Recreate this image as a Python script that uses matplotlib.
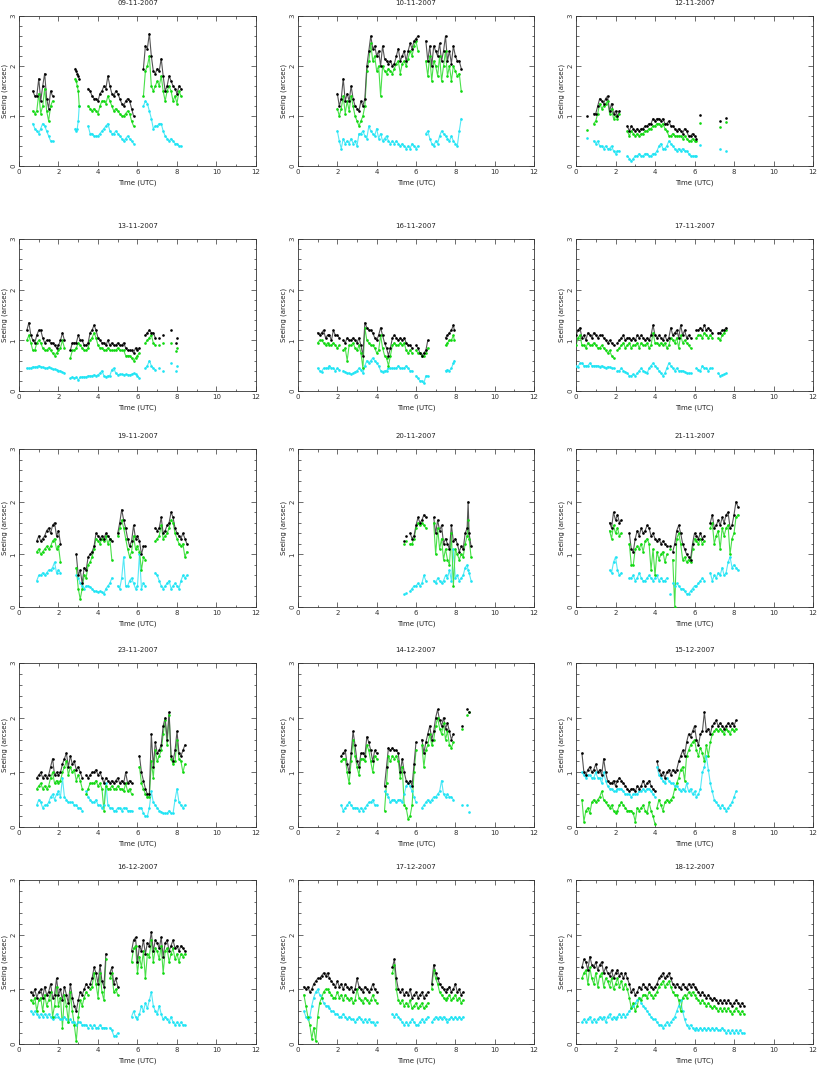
import matplotlib

matplotlib.use("Agg")
import matplotlib.pyplot as plt
from matplotlib.ticker import MultipleLocator
import numpy as np

nan = float("nan")

# seeing (arcsec) vs time (UTC); black = total, green / cyan = the two partial series
# nan entries break the curve where there is no data

# 09-11-2007
t_0911 = [0.7, 0.8, 0.9, 1.0, 1.1, 1.2, 1.3, 1.4, 1.5, 1.6, 1.7, nan,
          2.85, 2.9, 2.95, 3.0, 3.05, nan,
          3.5, 3.6, 3.7, 3.8, 3.9, 4.0, 4.1, 4.2, 4.3, 4.4, 4.5, 4.6, 4.7, 4.8, 4.9, 5.0, 5.1, 5.2, 5.3, 5.4,
          5.5, 5.6, 5.7, 5.8, nan,
          6.3, 6.4, 6.5, 6.6, 6.7, 6.8, 6.9, 7.0, 7.1, 7.2, 7.3, 7.4, 7.5, 7.6, 7.7, 7.8, 7.9, 8.0, 8.1, 8.2]
blk_0911 = [1.5, 1.4, 1.4, 1.75, 1.3, 1.6, 1.85, 1.35, 1.15, 1.5, 1.4, nan,
            1.95, 1.9, 1.85, 1.8, 1.75, nan,
            1.55, 1.5, 1.4, 1.35, 1.35, 1.3, 1.45, 1.5, 1.6, 1.55, 1.8, 1.6, 1.45, 1.4, 1.5, 1.45, 1.35, 1.25,
            1.2, 1.3, 1.35, 1.3, 1.15, 1.0, nan,
            1.95, 2.4, 2.35, 2.65, 2.2, 1.9, 1.85, 1.95, 1.9, 2.15, 1.8, 1.5, 1.6, 1.8, 1.7, 1.6, 1.55, 1.45, 1.6, 1.55]
grn_0911 = [1.1, 1.05, 1.1, 1.45, 1.05, 1.2, 1.55, 1.1, 0.9, 1.2, 1.3, nan,
            1.75, 1.7, 1.6, 1.5, 1.2, nan,
            1.2, 1.15, 1.1, 1.15, 1.1, 1.05, 1.2, 1.3, 1.3, 1.25, 1.4, 1.3, 1.2, 1.1, 1.15, 1.1, 1.05, 1.0,
            1.0, 1.05, 1.1, 1.05, 0.9, 0.8, nan,
            1.4, 1.9, 2.0, 2.2, 1.6, 1.5, 1.6, 1.7, 1.6, 1.8, 1.5, 1.3, 1.5, 1.6, 1.5, 1.3, 1.4, 1.25, 1.5, 1.4]
cyn_0911 = [0.85, 0.75, 0.7, 0.65, 0.75, 0.85, 0.8, 0.7, 0.6, 0.5, 0.5, nan,
            0.75, 0.7, 0.75, 0.9, 1.2, nan,
            0.8, 0.65, 0.65, 0.6, 0.6, 0.6, 0.65, 0.7, 0.75, 0.8, 0.85, 0.7, 0.65, 0.65, 0.7, 0.65, 0.6, 0.55,
            0.5, 0.55, 0.6, 0.55, 0.5, 0.45, nan,
            1.2, 1.3, 1.25, 1.1, 0.95, 0.75, 0.8, 0.8, 0.85, 0.85, 0.7, 0.6, 0.55, 0.5, 0.55, 0.5, 0.45, 0.45, 0.4, 0.4]

# 10-11-2007
t_1011 = [2.0, 2.1, 2.2, 2.3, 2.4, 2.5, 2.6, 2.7, 2.8, 2.9, 3.0, 3.1, 3.2, 3.3, 3.4, 3.5, 3.6, 3.7, 3.8, 3.9,
          4.0, 4.1, 4.2, 4.3, 4.4, 4.5, 4.6, 4.7, 4.8, 4.9, 5.0, 5.1, 5.2, 5.3, 5.4, 5.5, 5.6, 5.7, 5.8, 5.9,
          6.0, 6.1, nan,
          6.5, 6.6, 6.7, 6.8, 6.9, 7.0, 7.1, 7.2, 7.3, 7.4, 7.5, 7.6, 7.7, 7.8, 7.9, 8.0, 8.1, 8.2, 8.3]
blk_1011 = [1.45, 1.2, 1.35, 1.75, 1.3, 1.45, 1.3, 1.6, 1.35, 1.2, 1.15, 1.1, 1.3, 1.2, 1.35, 2.0, 2.3, 2.6, 2.35, 2.4,
            2.2, 2.3, 2.0, 2.4, 2.15, 2.1, 2.05, 2.1, 2.0, 2.05, 2.2, 2.35, 2.1, 2.2, 2.3, 2.1, 2.3, 2.45, 2.35, 2.5,
            2.55, 2.6, nan,
            2.5, 2.1, 2.4, 2.0, 2.4, 2.3, 2.2, 2.45, 2.1, 2.3, 2.6, 2.1, 2.3, 2.05, 2.4, 2.2, 2.1, 2.1, 1.95]
grn_1011 = [1.15, 1.0, 1.15, 1.4, 1.05, 1.3, 1.1, 1.4, 1.2, 1.0, 0.9, 0.8, 0.9, 1.0, 1.2, 1.9, 2.1, 2.45, 2.1, 2.2,
            1.9, 2.0, 1.4, 2.0, 1.9, 1.85, 1.95, 1.9, 1.85, 1.95, 2.05, 2.1, 1.85, 2.05, 2.1, 2.0, 2.15, 2.3, 2.2, 2.4,
            2.5, 2.3, nan,
            2.1, 1.8, 2.2, 1.7, 2.1, 2.0, 1.8, 2.2, 1.7, 2.0, 2.3, 1.8, 2.0, 1.7, 2.0, 1.9, 1.8, 1.85, 1.5]
cyn_1011 = [0.7, 0.5, 0.35, 0.55, 0.45, 0.5, 0.45, 0.55, 0.45, 0.5, 0.4, 0.65, 0.65, 0.7, 0.6, 0.55, 0.8, 0.7, 0.65, 0.6,
            0.75, 0.55, 0.65, 0.5, 0.55, 0.6, 0.5, 0.45, 0.5, 0.45, 0.5, 0.45, 0.4, 0.45, 0.4, 0.35, 0.4, 0.35, 0.45, 0.4,
            0.35, 0.4, nan,
            0.65, 0.7, 0.55, 0.45, 0.4, 0.5, 0.45, 0.6, 0.7, 0.65, 0.6, 0.55, 0.5, 0.6, 0.5, 0.45, 0.4, 0.7, 0.95]

# 12-11-2007
t_1211 = [0.55, nan,
          0.9, 1.0, 1.1, 1.2, 1.3, 1.4, 1.5, 1.6, 1.7, 1.8, 1.9, 2.0, 2.1, 2.2, nan,
          2.6, 2.7, 2.8, 2.9, 3.0, 3.1, 3.2, 3.3, 3.4, 3.5, 3.6, 3.7, 3.8, 3.9, 4.0, 4.1, 4.2, 4.3, 4.4, 4.5,
          4.6, 4.7, 4.8, 4.9, 5.0, 5.1, 5.2, 5.3, 5.4, 5.5, 5.6, 5.7, 5.8, 5.9, 6.0, 6.1, nan,
          6.3, nan, 7.3, nan, 7.6]
blk_1211 = [1.0, nan,
            1.05, 1.05, 1.2, 1.35, 1.3, 1.25, 1.35, 1.4, 1.1, 1.25, 1.05, 1.1, 1.0, 1.1, nan,
            0.8, 0.7, 0.8, 0.75, 0.7, 0.75, 0.7, 0.75, 0.75, 0.8, 0.8, 0.85, 0.85, 0.95, 0.9, 0.95, 0.95, 0.9, 0.95, 0.85,
            0.85, 0.9, 0.8, 0.8, 0.75, 0.7, 0.75, 0.7, 0.65, 0.75, 0.7, 0.6, 0.6, 0.65, 0.6, 0.55, nan,
            1.02, nan, 0.9, nan, 0.97]
grn_1211 = [0.73, nan,
            0.85, 0.9, 1.05, 1.25, 1.15, 1.2, 1.25, 1.3, 1.05, 1.15, 0.95, 1.0, 0.95, 1.05, nan,
            0.7, 0.6, 0.7, 0.65, 0.6, 0.65, 0.6, 0.65, 0.65, 0.7, 0.7, 0.75, 0.75, 0.8, 0.8, 0.85, 0.85, 0.8, 0.85, 0.75,
            0.7, 0.6, 0.6, 0.65, 0.6, 0.6, 0.6, 0.6, 0.55, 0.6, 0.55, 0.5, 0.5, 0.55, 0.5, 0.5, nan,
            0.87, nan, 0.78, nan, 0.88]
cyn_1211 = [0.57, nan,
            0.5, 0.45, 0.5, 0.4, 0.4, 0.35, 0.4, 0.35, 0.35, 0.4, 0.3, 0.25, 0.3, 0.3, nan,
            0.2, 0.15, 0.1, 0.15, 0.2, 0.2, 0.25, 0.2, 0.2, 0.25, 0.25, 0.2, 0.2, 0.25, 0.25, 0.3, 0.4, 0.45, 0.35, 0.35,
            0.4, 0.5, 0.45, 0.4, 0.35, 0.3, 0.35, 0.3, 0.35, 0.3, 0.3, 0.25, 0.2, 0.2, 0.2, 0.2, nan,
            0.43, nan, 0.35, nan, 0.3]

# 13-11-2007
t_1311 = [0.4, 0.5, 0.6, 0.7, 0.8, 0.9, 1.0, 1.1, 1.2, 1.3, 1.4, 1.5, 1.6, 1.7, 1.8, 1.9, 2.0, 2.1, 2.2, 2.3, nan,
          2.6, 2.7, 2.8, 2.9, 3.0, 3.1, 3.2, 3.3, 3.4, 3.5, 3.6, 3.7, 3.8, 3.9, 4.0, 4.1, 4.2, 4.3, 4.4, 4.5,
          4.6, 4.7, 4.8, 4.9, 5.0, 5.1, 5.2, 5.3, 5.4, 5.5, 5.6, 5.7, 5.8, 5.9, 6.0, 6.1, nan,
          6.4, 6.5, 6.6, 6.7, 6.8, 6.9, nan, 7.1, nan, 7.3, nan, 7.7, nan, 7.95, nan, 8.0]
blk_1311 = [1.2, 1.35, 1.1, 1.0, 0.95, 1.1, 1.2, 1.2, 1.05, 0.95, 1.0, 1.0, 0.95, 0.95, 0.9, 0.85, 0.9, 1.0, 1.15, 1.0, nan,
            0.8, 0.95, 0.95, 0.95, 1.1, 1.0, 1.0, 0.9, 0.9, 0.95, 1.15, 1.2, 1.3, 1.2, 1.05, 1.0, 0.95, 0.95, 0.9, 1.0,
            0.9, 0.95, 0.9, 0.9, 0.95, 0.9, 0.9, 0.95, 0.85, 0.8, 0.8, 0.8, 0.75, 0.85, 0.8, 0.85, nan,
            1.1, 1.15, 1.2, 1.15, 1.15, 1.05, nan, 1.05, nan, 1.1, nan, 1.2, nan, 0.95, nan, 1.05]
grn_1311 = [1.0, 1.1, 0.95, 0.8, 0.8, 0.95, 1.0, 0.95, 0.85, 0.8, 0.8, 0.85, 0.8, 0.75, 0.7, 0.75, 0.8, 0.85, 1.0, 0.85, nan,
            0.65, 0.8, 0.8, 0.85, 0.95, 0.9, 0.85, 0.8, 0.8, 0.85, 1.0, 1.05, 1.15, 1.05, 0.9, 0.85, 0.85, 0.8, 0.8, 0.85,
            0.8, 0.8, 0.8, 0.8, 0.85, 0.8, 0.8, 0.8, 0.7, 0.7, 0.7, 0.65, 0.6, 0.65, 0.7, 0.75, nan,
            0.95, 1.0, 1.05, 1.1, 0.95, 0.9, nan, 0.9, nan, 0.95, nan, 0.95, nan, 0.78, nan, 0.85]
cyn_1311 = [0.45, 0.45, 0.45, 0.48, 0.47, 0.48, 0.5, 0.48, 0.47, 0.45, 0.45, 0.47, 0.45, 0.43, 0.43, 0.42, 0.4, 0.4,
            0.37, 0.36, nan,
            0.25, 0.28, 0.25, 0.27, 0.22, 0.27, 0.28, 0.28, 0.28, 0.3, 0.3, 0.3, 0.32, 0.3, 0.32, 0.35, 0.4, 0.3, 0.28, 0.3,
            0.3, 0.42, 0.45, 0.35, 0.32, 0.33, 0.33, 0.32, 0.33, 0.32, 0.32, 0.33, 0.35, 0.33, 0.3, 0.25, nan,
            0.45, 0.5, 0.6, 0.5, 0.45, 0.42, nan, 0.45, nan, 0.4, nan, 0.55, nan, 0.4, nan, 0.5]

# 16-11-2007
t_1611 = [1.0, 1.1, 1.2, 1.3, 1.4, 1.5, 1.6, 1.7, 1.8, 1.9, 2.0, 2.1, nan,
          2.3, 2.4, 2.5, 2.6, 2.7, 2.8, 2.9, 3.0, 3.1, 3.2, 3.3, 3.4, 3.5, 3.6, 3.7, 3.8, 3.9, 4.0, 4.1, 4.2,
          4.3, 4.4, 4.5, 4.6, 4.7, 4.8, 4.9, 5.0, 5.1, 5.2, 5.3, 5.4, 5.5, 5.6, 5.7, 5.8, nan,
          6.0, 6.1, 6.2, 6.3, 6.4, 6.5, 6.6, nan,
          7.5, 7.6, 7.7, 7.8, 7.9, 7.95]
blk_1611 = [1.15, 1.1, 1.15, 1.2, 1.05, 1.1, 1.1, 1.0, 1.2, 1.1, 1.1, 1.05, nan,
            1.0, 0.95, 1.05, 1.0, 1.0, 1.05, 1.0, 0.95, 1.05, 0.9, 0.7, 1.35, 1.25, 1.2, 1.2, 1.15, 1.05, 1.0, 1.1, 1.25,
            1.1, 0.95, 0.85, 0.7, 0.85, 1.05, 1.1, 1.05, 1.0, 1.05, 1.0, 1.05, 0.95, 0.9, 0.9, 0.85, nan,
            0.9, 0.85, 0.75, 0.7, 0.75, 0.8, 1.0, nan,
            1.05, 1.1, 1.15, 1.2, 1.3, 1.2]
grn_1611 = [0.95, 1.0, 1.0, 0.95, 0.9, 0.95, 0.9, 0.9, 0.95, 0.9, 0.85, 0.9, nan,
            0.8, 0.85, 0.6, 0.9, 0.9, 0.95, 0.85, 0.8, 0.9, 0.75, 0.45, 1.25, 1.0, 0.95, 0.9, 0.9, 0.85, 0.75, 0.8, 1.1,
            0.85, 0.7, 0.65, 0.5, 0.7, 0.9, 0.95, 0.9, 0.9, 0.95, 0.9, 0.95, 0.8, 0.75, 0.8, 0.75, nan,
            0.8, 0.75, 0.75, 0.7, 0.7, 0.75, 0.85, nan,
            0.9, 0.95, 1.0, 1.0, 1.1, 1.0]
cyn_1611 = [0.45, 0.4, 0.38, 0.45, 0.45, 0.45, 0.5, 0.45, 0.45, 0.4, 0.45, 0.42, nan,
            0.4, 0.38, 0.35, 0.35, 0.33, 0.35, 0.38, 0.4, 0.45, 0.42, 0.35, 0.5, 0.6, 0.55, 0.6, 0.65, 0.6, 0.55, 0.5, 0.4,
            0.38, 0.4, 0.4, 0.45, 0.45, 0.45, 0.45, 0.45, 0.5, 0.45, 0.45, 0.45, 0.5, 0.45, 0.4, 0.4, nan,
            0.3, 0.25, 0.2, 0.2, 0.15, 0.3, 0.3, nan,
            0.4, 0.42, 0.4, 0.45, 0.55, 0.6]

# 17-11-2007
t_1711 = [0.0, 0.1, 0.2, 0.3, 0.4, 0.5, 0.6, 0.7, 0.8, 0.9, 1.0, 1.1, 1.2, 1.3, 1.4, 1.5, 1.6, 1.7, 1.8, 1.9, nan,
          2.1, 2.2, 2.3, 2.4, 2.5, 2.6, 2.7, 2.8, 2.9, 3.0, 3.1, 3.2, 3.3, 3.4, 3.5, 3.6, 3.7, 3.8, 3.9, 4.0,
          4.1, 4.2, 4.3, 4.4, 4.5, 4.6, 4.7, 4.8, 4.9, 5.0, 5.1, 5.2, 5.3, 5.4, 5.5, 5.6, 5.7, 5.8, nan,
          6.1, 6.2, 6.3, 6.4, 6.5, 6.6, 6.7, 6.8, 6.9, nan,
          7.2, 7.3, 7.4, 7.5, 7.6]
blk_1711 = [1.1, 1.2, 1.25, 1.05, 1.1, 1.0, 1.15, 1.1, 1.05, 1.15, 1.1, 1.05, 1.1, 1.1, 1.05, 1.0, 0.95, 1.0, 0.95, 0.9, nan,
            0.95, 1.0, 1.05, 1.1, 1.0, 1.05, 1.05, 1.0, 1.05, 1.0, 1.1, 1.05, 1.1, 1.05, 1.0, 1.05, 1.0, 1.1, 1.3, 1.1,
            1.05, 1.1, 1.05, 1.0, 1.1, 1.0, 1.05, 1.25, 1.1, 1.15, 1.2, 1.05, 1.3, 1.1, 1.2, 1.05, 1.1, 1.05, nan,
            1.2, 1.2, 1.25, 1.2, 1.3, 1.2, 1.25, 1.2, 1.15, nan,
            1.15, 1.15, 1.2, 1.2, 1.25]
grn_1711 = [0.9, 1.05, 1.1, 0.9, 0.9, 0.85, 0.95, 0.9, 0.9, 0.95, 0.9, 0.85, 0.85, 0.9, 0.85, 0.8, 0.75, 0.8, 0.7, 0.65, nan,
            0.8, 0.85, 0.9, 0.95, 0.85, 0.9, 0.95, 0.85, 0.9, 0.9, 0.95, 0.85, 0.95, 0.9, 0.9, 0.95, 0.85, 0.9, 1.15, 0.95,
            0.95, 0.9, 0.95, 0.9, 0.95, 0.85, 0.9, 1.05, 1.0, 0.95, 1.05, 0.85, 1.1, 0.95, 1.0, 0.95, 0.9, 0.85, nan,
            1.05, 1.1, 1.1, 1.05, 1.15, 1.1, 1.05, 1.1, 1.05, nan,
            1.05, 1.0, 1.1, 1.15, 1.2]
cyn_1711 = [0.5, 0.48, 0.55, 0.55, 0.5, 0.5, 0.5, 0.55, 0.5, 0.5, 0.5, 0.5, 0.48, 0.5, 0.47, 0.45, 0.48, 0.47, 0.45, 0.45, nan,
            0.4, 0.4, 0.45, 0.4, 0.38, 0.35, 0.3, 0.3, 0.33, 0.3, 0.35, 0.4, 0.45, 0.4, 0.38, 0.35, 0.45, 0.5, 0.55, 0.5,
            0.45, 0.4, 0.35, 0.3, 0.35, 0.45, 0.55, 0.5, 0.45, 0.4, 0.45, 0.4, 0.4, 0.4, 0.38, 0.35, 0.35, 0.35, nan,
            0.45, 0.42, 0.4, 0.5, 0.45, 0.45, 0.4, 0.45, 0.45, nan,
            0.35, 0.3, 0.32, 0.33, 0.35]

# 19-11-2007
t_1911 = [0.9, 1.0, 1.1, 1.2, 1.3, 1.4, 1.5, 1.6, 1.7, 1.8, 1.9, 2.0, 2.1, nan,
          2.9, 3.0, 3.1, 3.2, 3.3, 3.4, 3.5, 3.6, 3.7, 3.8, 3.9, 4.0, 4.1, 4.2, 4.3, 4.4, 4.5, 4.6, 4.7, nan,
          5.0, 5.1, 5.2, 5.3, 5.4, 5.5, 5.6, 5.7, 5.8, 5.9, 6.0, 6.1, 6.2, 6.3, 6.4, nan,
          6.9, 7.0, 7.1, 7.2, 7.3, 7.4, 7.5, 7.6, 7.7, 7.8, 7.9, 8.0, 8.1, 8.2, 8.3, 8.4, 8.5]
blk_1911 = [1.25, 1.35, 1.25, 1.3, 1.35, 1.45, 1.5, 1.4, 1.55, 1.6, 1.35, 1.45, 1.2, nan,
            1.0, 0.6, 0.7, 0.45, 0.75, 0.7, 0.95, 1.0, 1.05, 1.15, 1.4, 1.35, 1.3, 1.35, 1.3, 1.4, 1.35, 1.3, 1.25, nan,
            1.4, 1.6, 1.85, 1.65, 1.5, 1.3, 1.15, 1.25, 1.55, 1.3, 1.35, 1.25, 1.0, 1.15, 1.15, nan,
            1.5, 1.45, 1.5, 1.7, 1.4, 1.45, 1.55, 1.6, 1.8, 1.7, 1.5, 1.4, 1.35, 1.3, 1.4, 1.3, 1.2]
grn_1911 = [1.05, 1.1, 1.0, 1.05, 1.1, 1.15, 1.1, 1.15, 1.25, 1.3, 1.1, 1.15, 0.85, nan,
            0.75, 0.35, 0.15, 0.35, 0.6, 0.55, 0.8, 0.85, 0.95, 1.1, 1.3, 1.25, 1.2, 1.3, 1.25, 1.35, 1.2, 1.3, 0.9, nan,
            1.35, 1.5, 1.65, 1.5, 1.3, 1.1, 0.95, 1.05, 1.35, 1.1, 1.15, 1.05, 0.7, 0.95, 0.9, nan,
            1.25, 1.3, 1.35, 1.55, 1.3, 1.35, 1.4, 1.5, 1.65, 1.6, 1.4, 1.3, 1.2, 1.15, 1.2, 0.95, 1.05]
cyn_1911 = [0.5, 0.6, 0.6, 0.65, 0.6, 0.65, 0.7, 0.7, 0.75, 0.85, 0.65, 0.7, 0.65, nan,
            0.6, 0.55, 0.45, 0.4, 0.35, 0.4, 0.4, 0.38, 0.35, 0.3, 0.3, 0.28, 0.3, 0.28, 0.25, 0.35, 0.4, 0.45, 0.55, nan,
            0.4, 0.35, 0.55, 0.95, 0.4, 0.4, 0.5, 0.55, 0.45, 0.35, 0.4, 1.0, 0.35, 0.45, 0.4, nan,
            0.65, 0.6, 0.5, 0.4, 0.35, 0.4, 0.45, 0.5, 0.35, 0.4, 0.45, 0.4, 0.35, 0.5, 0.6, 0.55, 0.6]

# 20-11-2007
t_2011 = [5.4, nan, 5.5, nan,
          5.7, 5.8, 5.9, 6.0, 6.1, 6.2, 6.3, 6.4, 6.5, nan,
          6.9, 7.0, 7.1, 7.2, 7.3, 7.4, 7.5, 7.6, 7.7, 7.8, 7.9, 8.0, 8.1, 8.2, 8.3, 8.4, 8.5, 8.6, 8.65, 8.7, 8.8]
blk_2011 = [1.25, nan, 1.35, nan,
            1.4, 1.3, 1.35, 1.55, 1.7, 1.6, 1.65, 1.75, 1.7, nan,
            1.7, 1.4, 1.65, 1.45, 1.55, 1.2, 1.3, 1.2, 1.1, 1.55, 1.25, 1.3, 1.2, 1.05, 1.15, 1.1, 1.4, 1.5, 2.0, 1.4, 1.15]
grn_2011 = [1.2, nan, 1.25, nan,
            1.2, 1.2, 1.3, 1.5, 1.6, 1.55, 1.6, 1.55, 1.5, nan,
            1.6, 1.0, 1.5, 1.1, 1.3, 0.9, 1.1, 0.9, 0.8, 1.4, 0.4, 1.1, 1.0, 0.9, 1.0, 0.95, 1.2, 1.35, 1.65, 1.3, 0.95]
cyn_2011 = [0.25, nan, 0.27, nan,
            0.3, 0.35, 0.4, 0.4, 0.45, 0.4, 0.45, 0.6, 0.5, nan,
            0.5, 0.45, 0.55, 0.5, 0.45, 0.5, 0.6, 0.55, 0.7, 0.5, 1.1, 0.55, 0.6, 0.5, 0.55, 0.6, 0.75, 0.8, 0.7, 0.65, 0.5]

# 21-11-2007
t_2111 = [1.7, 1.8, 1.9, 2.0, 2.1, 2.2, 2.3, nan,
          2.7, 2.8, 2.9, 3.0, 3.1, 3.2, 3.3, 3.4, 3.5, 3.6, 3.7, 3.8, 3.9, 4.0, 4.1, 4.2, 4.3, 4.4, 4.5, 4.6, nan,
          4.75, nan,
          4.9, 5.0, 5.1, 5.2, 5.3, 5.4, 5.5, 5.6, 5.7, 5.8, 5.9, 6.0, 6.1, 6.2, 6.3, 6.4, 6.5, nan,
          6.8, 6.9, 7.0, 7.1, 7.2, 7.3, 7.4, 7.5, 7.6, 7.7, 7.8, 7.9, 8.0, 8.1, 8.2]
blk_2111 = [1.6, 1.5, 1.8, 1.65, 1.75, 1.6, 1.65, nan,
            1.4, 1.1, 1.05, 1.3, 1.45, 1.35, 1.5, 1.4, 1.45, 1.55, 1.5, 1.35, 1.4, 1.3, 1.25, 1.3, 1.2, 1.25, 1.2, 1.15, nan,
            1.15, nan,
            1.05, 1.2, 1.45, 1.55, 1.4, 1.2, 1.1, 1.0, 0.95, 0.9, 1.2, 1.4, 1.35, 1.3, 1.4, 1.3, 1.35, nan,
            1.6, 1.75, 1.5, 1.55, 1.65, 1.55, 1.7, 1.6, 1.75, 1.8, 1.5, 1.55, 1.75, 2.0, 1.9]
grn_2111 = [1.45, 1.3, 1.55, 1.4, 1.5, 1.35, 1.4, nan,
            1.2, 0.8, 0.8, 1.1, 1.15, 1.1, 1.2, 1.05, 1.25, 1.3, 1.2, 0.7, 1.1, 0.6, 1.05, 0.9, 1.0, 1.05, 0.85, 1.0, nan,
            1.1, nan,
            0.9, 0.0, 1.3, 1.4, 1.2, 0.9, 0.95, 0.85, 0.9, 0.85, 1.1, 1.3, 1.25, 1.2, 1.3, 1.2, 1.25, nan,
            1.5, 1.6, 1.2, 1.35, 1.45, 1.1, 1.5, 1.35, 1.5, 1.55, 1.0, 1.3, 1.4, 1.7, 1.75]
cyn_2111 = [0.7, 0.65, 0.85, 0.95, 0.7, 0.6, 0.65, nan,
            0.55, 0.55, 0.6, 0.5, 0.55, 0.65, 0.55, 0.5, 0.5, 0.55, 0.6, 0.55, 0.5, 0.55, 0.6, 0.5, 0.55, 0.5, 0.5, 0.55, nan,
            0.25, nan,
            0.45, 0.4, 0.45, 0.4, 0.35, 0.35, 0.3, 0.25, 0.25, 0.3, 0.35, 0.4, 0.4, 0.45, 0.5, 0.55, 0.5, nan,
            0.65, 0.5, 0.6, 0.55, 0.65, 0.6, 0.75, 0.6, 0.65, 0.85, 0.95, 0.75, 0.8, 0.75, 0.7]

# 23-11-2007
t_2311 = [0.9, 1.0, 1.1, 1.2, 1.3, 1.4, 1.5, 1.6, 1.7, 1.8, 1.9, 2.0, 2.1, 2.2, 2.3, 2.4, 2.5, 2.6, 2.7, 2.8,
          2.9, 3.0, 3.1, 3.2, nan,
          3.4, 3.5, 3.6, 3.7, 3.8, 3.9, 4.0, 4.1, 4.2, 4.3, 4.4, 4.5, 4.6, 4.7, 4.8, 4.9, 5.0, 5.1, 5.2, 5.3,
          5.4, 5.5, 5.6, 5.7, nan,
          6.1, 6.2, 6.3, 6.4, 6.5, 6.6, 6.7, 6.8, 6.9, 7.0, 7.1, 7.2, 7.3, 7.4, 7.5, 7.6, 7.7, 7.8, 7.9, 8.0,
          8.1, 8.2, 8.3, 8.4]
blk_2311 = [0.9, 0.95, 1.0, 0.9, 0.95, 0.9, 0.95, 1.1, 1.25, 0.95, 1.0, 0.95, 1.0, 1.15, 1.25, 1.35, 1.1, 1.3, 1.15, 1.2,
            1.05, 1.1, 1.0, 0.9, nan,
            0.95, 0.9, 0.95, 1.0, 1.0, 1.05, 0.95, 1.0, 0.9, 0.8, 0.9, 0.85, 0.8, 0.85, 0.8, 0.85, 0.9, 0.8, 0.85, 0.8,
            1.0, 0.8, 0.85, 0.8, nan,
            1.3, 1.0, 0.85, 0.7, 0.6, 0.6, 1.7, 1.1, 1.55, 1.35, 1.4, 1.5, 1.85, 2.0, 1.6, 2.1, 1.3, 1.2, 1.4, 1.75,
            1.35, 1.3, 1.4, 1.5]
grn_2311 = [0.7, 0.75, 0.8, 0.7, 0.75, 0.7, 0.75, 0.9, 1.0, 0.8, 0.85, 0.8, 0.85, 1.0, 1.1, 1.2, 0.95, 1.1, 1.0, 1.05,
            0.85, 0.95, 0.85, 0.7, nan,
            0.6, 0.7, 0.8, 0.8, 0.8, 0.85, 0.75, 0.8, 0.7, 0.3, 0.75, 0.7, 0.7, 0.75, 0.7, 0.7, 0.75, 0.7, 0.7, 0.65,
            0.8, 0.65, 0.7, 0.6, nan,
            1.1, 0.8, 0.7, 0.6, 0.55, 0.55, 1.2, 0.9, 1.4, 1.2, 1.3, 1.4, 1.7, 1.95, 1.5, 2.05, 1.25, 1.15, 1.2, 1.6,
            1.25, 1.2, 1.0, 1.15]
cyn_2311 = [0.4, 0.5, 0.45, 0.35, 0.4, 0.4, 0.45, 0.55, 0.6, 0.5, 0.6, 0.65, 0.55, 0.9, 0.55, 0.5, 0.45, 0.45, 0.45, 0.4,
            0.4, 0.35, 0.35, 0.3, nan,
            0.65, 0.55, 0.5, 0.45, 0.45, 0.5, 0.4, 0.4, 0.35, 0.4, 0.8, 0.4, 0.35, 0.35, 0.3, 0.3, 0.35, 0.35, 0.3, 0.35,
            0.35, 0.3, 0.3, 0.3, nan,
            0.35, 0.35, 0.25, 0.2, 0.2, 0.35, 0.65, 0.45, 0.4, 0.35, 0.3, 0.28, 0.25, 0.25, 0.25, 0.3, 0.25, 0.25, 0.5, 0.7,
            0.45, 0.4, 0.35, 0.4]

# 14-12-2007
t_1412 = [2.2, 2.3, 2.4, 2.5, 2.6, 2.7, 2.8, 2.9, 3.0, 3.1, 3.2, 3.3, 3.4, 3.5, 3.6, 3.7, 3.8, 3.9, 4.0, nan,
          4.4, 4.5, 4.6, 4.7, 4.8, 4.9, 5.0, 5.1, 5.2, 5.3, 5.4, 5.5, 5.6, 5.7, 5.8, 5.9, 6.0, nan,
          6.3, 6.4, 6.5, 6.6, 6.7, 6.8, 6.9, 7.0, 7.1, 7.2, 7.3, 7.4, 7.5, 7.6, 7.7, 7.8, 7.9, nan,
          8.35, nan, 8.6, nan, 8.7]
blk_1412 = [1.3, 1.35, 1.4, 1.15, 1.0, 1.35, 1.75, 1.5, 1.2, 1.1, 1.35, 1.35, 1.3, 1.65, 1.55, 1.4, 1.2, 1.4, 1.35, nan,
            0.75, 1.1, 1.45, 1.4, 1.45, 1.4, 1.4, 1.35, 1.0, 1.25, 1.0, 0.85, 0.8, 0.85, 0.75, 1.15, 1.55, nan,
            1.6, 1.35, 1.55, 1.7, 1.85, 1.6, 1.75, 2.0, 2.15, 1.95, 1.85, 2.0, 1.8, 1.9, 1.75, 1.6, 1.7, nan,
            1.85, nan, 2.15, nan, 2.1]
grn_1412 = [1.2, 1.25, 1.25, 1.0, 0.8, 1.2, 1.6, 1.3, 1.1, 0.95, 1.25, 1.25, 1.2, 1.5, 1.4, 1.2, 1.0, 1.3, 1.25, nan,
            0.3, 0.8, 1.3, 1.2, 1.3, 1.25, 1.3, 1.2, 0.9, 1.1, 0.4, 0.35, 0.15, 0.2, 0.4, 1.0, 1.4, nan,
            1.5, 1.1, 1.4, 1.5, 1.7, 1.5, 1.6, 1.85, 2.0, 1.8, 1.7, 1.9, 1.6, 1.75, 1.5, 1.45, 1.55, nan,
            1.8, nan, 2.05, nan, 2.1]
cyn_1412 = [0.4, 0.3, 0.35, 0.4, 0.45, 0.4, 0.35, 0.35, 0.35, 0.3, 0.35, 0.3, 0.35, 0.4, 0.45, 0.45, 0.5, 0.4, 0.4, nan,
            0.65, 0.6, 0.55, 0.45, 0.5, 0.5, 0.45, 0.5, 0.5, 0.45, 0.6, 0.75, 0.8, 0.75, 0.65, 0.55, 0.45, nan,
            0.35, 0.4, 0.45, 0.5, 0.45, 0.5, 0.55, 0.55, 0.6, 0.65, 0.85, 0.6, 0.55, 0.6, 0.55, 0.55, 0.5, nan,
            0.4, nan, 0.4, nan, 0.28]

# 15-12-2007
t_1512 = [0.3, 0.4, 0.5, 0.6, 0.7, 0.8, 0.9, 1.0, 1.1, 1.2, 1.3, 1.4, 1.5, 1.6, 1.7, 1.8, 1.9, 2.0, 2.1, 2.2,
          2.3, 2.4, 2.5, 2.6, 2.7, 2.8, 2.9, 3.0, 3.1, 3.2, 3.3, 3.4, 3.5, 3.6, 3.7, 3.8, 3.9, 4.0, nan,
          4.1, 4.2, 4.3, 4.4, 4.5, 4.6, 4.7, 4.8, 4.9, 5.0, 5.1, 5.2, 5.3, 5.4, 5.5, 5.6, 5.7, 5.8, 5.9, 6.0,
          6.1, 6.2, 6.3, 6.4, 6.5, 6.6, 6.7, 6.8, 6.9, 7.0, 7.1, 7.2, 7.3, 7.4, 7.5, 7.6, 7.7, 7.8, 7.9, 8.0, 8.1]
blk_1512 = [1.35, 1.0, 0.95, 1.05, 1.1, 1.0, 1.05, 1.15, 1.0, 1.05, 0.95, 1.25, 1.0, 0.85, 0.8, 0.8, 0.85, 0.75, 0.85, 0.9,
            0.85, 0.8, 0.75, 0.7, 0.65, 0.7, 0.7, 0.65, 0.75, 0.7, 0.75, 0.85, 0.75, 0.8, 0.85, 0.75, 0.7, 0.65, nan,
            1.2, 1.05, 0.95, 1.0, 0.9, 1.0, 1.05, 0.95, 1.05, 1.0, 1.05, 1.2, 1.3, 1.4, 1.3, 1.55, 1.7, 1.65, 1.75, 1.85,
            1.6, 1.5, 1.7, 1.75, 2.1, 1.75, 1.8, 1.7, 1.85, 1.9, 1.95, 1.85, 1.9, 1.85, 1.8, 1.85, 1.9, 1.85, 1.9, 1.85,
            1.95]
grn_1512 = [0.5, 0.1, 0.3, 0.35, 0.25, 0.45, 0.5, 0.45, 0.5, 0.55, 0.65, 0.5, 0.45, 0.4, 0.35, 0.4, 0.3, 0.25, 0.3, 0.4,
            0.45, 0.4, 0.35, 0.3, 0.3, 0.3, 0.25, 0.1, 0.35, 0.3, 0.35, 0.4, 0.3, 0.25, 0.45, 0.3, 0.2, 0.05, nan,
            0.35, 0.5, 0.4, 0.3, 0.45, 0.5, 0.45, 0.5, 0.55, 0.7, 0.8, 0.9, 1.05, 1.1, 0.85, 1.3, 1.4, 1.5, 1.55, 1.6,
            1.4, 1.3, 1.45, 1.35, 1.2, 1.5, 1.3, 1.55, 1.7, 1.75, 1.8, 1.75, 1.8, 1.75, 1.7, 1.8, 1.75, 1.7, 1.8, 1.75,
            1.8]
cyn_1512 = [1.0, 0.95, 0.9, 0.95, 0.95, 0.9, 0.9, 1.0, 0.9, 0.9, 0.8, 1.0, 0.85, 0.75, 0.7, 0.7, 0.65, 0.65, 0.7, 0.7,
            0.7, 0.65, 0.6, 0.6, 0.6, 0.55, 0.6, 0.6, 0.6, 0.65, 0.65, 0.7, 0.65, 0.7, 0.7, 0.65, 0.6, 0.55, nan,
            1.1, 0.95, 0.9, 0.85, 0.8, 0.9, 0.85, 0.8, 0.8, 0.75, 0.75, 0.7, 0.65, 0.7, 0.65, 0.8, 0.65, 0.7, 0.6, 0.65,
            0.55, 0.6, 0.7, 1.0, 1.1, 1.3, 1.05, 0.8, 0.65, 0.5, 0.45, 0.4, 0.35, 0.4, 0.35, 0.3, 0.35, 0.4, 0.45, 0.55,
            0.65]

# 16-12-2007
t_1612 = [0.6, 0.7, 0.8, 0.9, 1.0, 1.1, 1.2, 1.3, 1.4, 1.5, 1.6, 1.7, 1.8, 1.9, 2.0, 2.1, 2.2, 2.3, 2.4, 2.5,
          2.6, 2.7, 2.8, 2.9, 3.0, 3.1, 3.2, 3.3, 3.4, 3.5, nan,
          3.6, 3.7, 3.8, 3.9, 4.0, 4.1, 4.2, 4.3, 4.4, nan,
          4.6, 4.7, 4.8, 4.9, 5.0, nan,
          5.7, 5.8, 5.9, 6.0, 6.1, 6.2, 6.3, 6.4, 6.5, 6.6, 6.7, 6.8, 6.9, 7.0, 7.1, 7.2, 7.3, 7.4, 7.5, 7.6,
          7.7, 7.8, 7.9, 8.0, 8.1, 8.2, 8.3, 8.4]
blk_1612 = [0.95, 0.9, 1.0, 0.85, 0.95, 1.0, 0.85, 1.05, 0.9, 0.95, 1.1, 0.85, 0.9, 1.2, 0.9, 1.0, 0.8, 1.05, 0.9, 0.75,
            1.1, 0.85, 0.7, 0.6, 0.8, 0.95, 0.9, 1.0, 1.1, 1.05, nan,
            1.1, 1.2, 1.4, 1.3, 1.1, 1.45, 1.15, 1.05, 1.65, nan,
            1.3, 1.4, 1.1, 1.2, 1.05, nan,
            1.7, 1.9, 1.95, 1.5, 1.8, 1.7, 1.9, 1.65, 1.85, 1.8, 2.05, 1.7, 1.9, 1.85, 1.75, 1.95, 1.6, 1.85, 1.9, 1.7,
            1.8, 1.9, 1.75, 1.8, 1.7, 1.8, 1.75, 1.7]
grn_1612 = [0.8, 0.75, 0.85, 0.6, 0.8, 0.85, 0.6, 0.9, 0.7, 0.8, 0.95, 0.5, 0.7, 1.05, 0.7, 0.85, 0.3, 0.9, 0.7, 0.4,
            0.95, 0.6, 0.35, 0.05, 0.5, 0.8, 0.7, 0.85, 0.95, 0.9, nan,
            1.0, 1.05, 1.3, 1.1, 0.85, 1.3, 0.95, 0.8, 1.55, nan,
            1.2, 1.3, 0.95, 1.0, 0.9, nan,
            1.5, 1.75, 1.8, 1.3, 1.6, 1.4, 1.7, 1.2, 1.65, 1.6, 1.9, 1.5, 1.75, 1.7, 1.55, 1.8, 1.3, 1.7, 1.75, 1.5,
            1.65, 1.75, 1.55, 1.65, 1.5, 1.65, 1.6, 1.65]
cyn_1612 = [0.6, 0.55, 0.6, 0.55, 0.5, 0.55, 0.5, 0.55, 0.5, 0.55, 0.5, 0.45, 0.5, 0.55, 0.5, 0.45, 0.45, 0.5, 0.45, 0.4,
            0.45, 0.4, 0.4, 0.35, 0.4, 0.4, 0.35, 0.35, 0.35, 0.3, nan,
            0.35, 0.3, 0.35, 0.3, 0.3, 0.35, 0.3, 0.3, 0.3, nan,
            0.3, 0.25, 0.15, 0.15, 0.2, nan,
            0.5, 0.6, 0.5, 0.45, 0.55, 0.7, 0.6, 0.75, 0.65, 0.8, 0.95, 0.7, 0.6, 0.55, 0.7, 0.55, 0.45, 0.5, 0.45, 0.4,
            0.5, 0.4, 0.35, 0.4, 0.35, 0.4, 0.35, 0.35]

# 17-12-2007
t_1712 = [0.3, 0.4, 0.5, 0.6, 0.7, 0.8, 0.9, 1.0, 1.1, 1.2, 1.3, 1.4, 1.5, 1.6, 1.7, 1.8, 1.9, 2.0, 2.1, 2.2,
          2.3, 2.4, 2.5, 2.6, 2.7, 2.8, 2.9, 3.0, 3.1, 3.2, 3.3, 3.4, 3.5, 3.6, 3.7, 3.8, 3.9, 4.0, nan,
          4.8, 4.9, 5.0, 5.1, 5.2, 5.3, 5.4, 5.5, 5.6, 5.7, 5.8, 5.9, 6.0, 6.1, 6.2, 6.3, 6.4, 6.5, 6.6, nan,
          6.8, 6.9, 7.0, 7.1, 7.2, 7.3, 7.4, 7.5, 7.6, 7.7, 7.8, 7.9, 8.0, 8.1, 8.2, 8.3, 8.4]
blk_1712 = [1.05, 1.0, 1.05, 0.95, 1.0, 1.1, 1.15, 1.2, 1.2, 1.25, 1.3, 1.25, 1.3, 1.2, 1.15, 1.1, 1.05, 1.15, 1.05, 1.1,
            1.0, 1.1, 1.05, 1.0, 1.05, 0.95, 1.0, 1.2, 1.05, 1.0, 0.95, 1.05, 1.0, 0.95, 1.0, 1.1, 1.0, 0.95, nan,
            1.4, 1.55, 1.2, 1.0, 0.95, 1.0, 0.9, 0.95, 0.9, 1.0, 0.85, 0.9, 0.95, 0.85, 0.9, 0.95, 0.85, 0.9, 0.95, nan,
            1.1, 1.45, 1.3, 1.2, 1.1, 1.05, 1.0, 0.95, 1.0, 1.05, 0.95, 1.0, 1.1, 0.95, 1.0, 0.9, 0.95]
grn_1712 = [0.9, 0.7, 0.5, 0.35, 0.1, 0.3, 0.05, 0.5, 0.75, 0.85, 0.95, 1.0, 1.0, 0.95, 0.9, 0.85, 0.85, 0.95, 0.85, 0.9,
            0.8, 0.9, 0.85, 0.8, 0.85, 0.75, 0.8, 1.0, 0.85, 0.8, 0.75, 0.85, 0.8, 0.75, 0.8, 0.9, 0.8, 0.75, nan,
            1.3, 1.45, 1.0, 0.8, 0.75, 0.8, 0.7, 0.75, 0.7, 0.8, 0.65, 0.7, 0.75, 0.65, 0.7, 0.75, 0.65, 0.7, 0.75, nan,
            1.0, 1.35, 1.2, 1.1, 0.95, 0.9, 0.85, 0.8, 0.85, 0.9, 0.8, 0.85, 0.9, 0.8, 0.85, 0.75, 0.8]
cyn_1712 = [0.6, 0.5, 0.45, 0.5, 0.7, 0.85, 0.95, 1.0, 0.9, 0.85, 0.75, 0.7, 0.7, 0.65, 0.6, 0.6, 0.55, 0.55, 0.5, 0.5,
            0.55, 0.5, 0.45, 0.5, 0.45, 0.45, 0.4, 0.45, 0.5, 0.45, 0.4, 0.45, 0.4, 0.45, 0.4, 0.4, 0.35, 0.4, nan,
            0.55, 0.5, 0.55, 0.5, 0.45, 0.4, 0.35, 0.4, 0.35, 0.4, 0.45, 0.4, 0.35, 0.35, 0.4, 0.45, 0.4, 0.45, 0.5, nan,
            0.4, 0.45, 0.5, 0.45, 0.5, 0.45, 0.5, 0.45, 0.4, 0.45, 0.5, 0.45, 0.5, 0.45, 0.5, 0.45, 0.5]

# 18-12-2007
t_1812 = [0.3, 0.4, 0.5, 0.6, 0.7, 0.8, 0.9, 1.0, 1.1, 1.2, 1.3, 1.4, 1.5, 1.6, 1.7, 1.8, 1.9, 2.0, 2.1, 2.2,
          2.3, 2.4, 2.5, 2.6, 2.7, 2.8, 2.9, 3.0, 3.1, 3.2, 3.3, 3.4, 3.5, 3.6, 3.7, 3.8, 3.9, 4.0, 4.1, 4.2,
          4.3, 4.4, 4.5, 4.6, 4.7, 4.8, 4.9, 5.0, 5.1, 5.2, 5.3, 5.4, 5.5, 5.6, 5.7, 5.8, 5.9, 6.0, 6.1, 6.2,
          6.3, 6.4, 6.5, 6.6, 6.7, 6.8, 6.9, 7.0, 7.1, 7.2, 7.3, 7.4, 7.5, 7.6, 7.7, 7.8, 7.9, 8.0, 8.1, 8.2,
          8.3, 8.4, 8.5]
blk_1812 = [1.4, 1.55, 1.5, 1.35, 1.6, 1.45, 1.4, 1.5, 1.35, 1.45, 1.5, 1.3, 1.4, 1.3, 1.25, 1.35, 1.2, 1.3, 1.35, 1.25,
            1.3, 1.2, 1.3, 1.2, 1.1, 0.95, 1.0, 0.9, 0.95, 1.05, 1.0, 1.1, 1.05, 1.0, 1.1, 1.05, 1.0, 1.05, 1.1, 1.2,
            1.25, 1.3, 1.2, 1.25, 1.3, 1.2, 1.1, 1.05, 1.1, 1.05, 1.0, 1.1, 1.05, 1.0, 1.1, 1.05, 1.1, 1.05, 1.0, 0.95,
            0.9, 0.95, 0.9, 0.85, 0.9, 0.85, 0.8, 0.85, 0.8, 0.75, 0.8, 0.75, 0.8, 0.75, 0.8, 0.75, 0.7, 0.75, 0.8, 0.75,
            0.7, 0.75, 0.7]
grn_1812 = [1.2, 1.3, 1.35, 1.1, 1.4, 1.2, 1.1, 1.3, 1.05, 1.25, 1.3, 1.05, 1.2, 1.15, 1.05, 1.2, 1.0, 1.1, 1.2, 1.05,
            1.15, 1.0, 1.1, 1.0, 0.85, 0.65, 0.75, 0.6, 0.7, 0.85, 0.8, 0.9, 0.9, 0.85, 0.95, 0.9, 0.85, 0.9, 0.95, 1.05,
            1.1, 1.15, 1.05, 1.1, 1.15, 1.05, 0.95, 0.9, 0.9, 0.8, 0.6, 0.85, 0.9, 0.85, 0.95, 0.9, 0.95, 0.9, 0.85, 0.8,
            0.75, 0.8, 0.75, 0.7, 0.75, 0.7, 0.65, 0.7, 0.65, 0.6, 0.65, 0.6, 0.65, 0.6, 0.65, 0.6, 0.55, 0.6, 0.65, 0.6,
            0.55, 0.6, 0.55]
cyn_1812 = [0.4, 0.45, 0.4, 0.45, 0.5, 0.4, 0.45, 0.4, 0.45, 0.5, 0.45, 0.5, 0.4, 0.5, 0.55, 0.45, 0.5, 0.45, 0.5, 0.55,
            0.5, 0.55, 0.5, 0.55, 0.6, 0.65, 0.7, 0.75, 0.8, 0.85, 0.75, 0.7, 0.65, 0.6, 0.55, 0.5, 0.45, 0.45, 0.4, 0.35,
            0.35, 0.3, 0.35, 0.4, 0.35, 0.4, 0.45, 0.5, 0.6, 0.7, 0.8, 0.6, 0.45, 0.35, 0.3, 0.35, 0.3, 0.25, 0.3, 0.25,
            0.3, 0.25, 0.3, 0.25, 0.3, 0.25, 0.3, 0.25, 0.3, 0.25, 0.25, 0.3, 0.25, 0.2, 0.25, 0.2, 0.25, 0.2, 0.25, 0.2,
            0.25, 0.2, 0.2]

PANELS = [
    ("09-11-2007", t_0911, blk_0911, grn_0911, cyn_0911),
    ("10-11-2007", t_1011, blk_1011, grn_1011, cyn_1011),
    ("12-11-2007", t_1211, blk_1211, grn_1211, cyn_1211),
    ("13-11-2007", t_1311, blk_1311, grn_1311, cyn_1311),
    ("16-11-2007", t_1611, blk_1611, grn_1611, cyn_1611),
    ("17-11-2007", t_1711, blk_1711, grn_1711, cyn_1711),
    ("19-11-2007", t_1911, blk_1911, grn_1911, cyn_1911),
    ("20-11-2007", t_2011, blk_2011, grn_2011, cyn_2011),
    ("21-11-2007", t_2111, blk_2111, grn_2111, cyn_2111),
    ("23-11-2007", t_2311, blk_2311, grn_2311, cyn_2311),
    ("14-12-2007", t_1412, blk_1412, grn_1412, cyn_1412),
    ("15-12-2007", t_1512, blk_1512, grn_1512, cyn_1512),
    ("16-12-2007", t_1612, blk_1612, grn_1612, cyn_1612),
    ("17-12-2007", t_1712, blk_1712, grn_1712, cyn_1712),
    ("18-12-2007", t_1812, blk_1812, grn_1812, cyn_1812),
]

W, H = 817, 1068
# panel frames in pixels: (left, right) per column, (top, bottom) per row
COLS = [(19, 256), (298, 534), (576, 813)]
ROWS = [(16, 166), (239, 391), (449, 607), (663, 827), (880, 1044)]

CYAN, CYAN_L = "#1ee4f4", "#55e8f6"
GREEN, GREEN_L = "#10d810", "#4ae04a"
BLACK, BLACK_L = "#000000", "#555555"

plt.rcParams["font.family"] = "DejaVu Sans"
fig = plt.figure(figsize=(W / 100, H / 100), dpi=100)

for i, (title, t, blk, grn, cyn) in enumerate(PANELS):
    r, c = divmod(i, 3)
    x0, x1 = COLS[c]
    y0, y1 = ROWS[r]
    ax = fig.add_axes([x0 / W, 1 - y1 / H, (x1 - x0) / W, (y1 - y0) / H])
    t = np.array(t, dtype=float)
    for vals, mc, lc in ((cyn, CYAN, CYAN_L), (grn, GREEN, GREEN_L), (blk, BLACK, BLACK_L)):
        v = np.array(vals, dtype=float)
        ax.plot(t, v, color=lc, lw=0.8, zorder=2)
        ax.plot(t, v, ls="none", marker="o", ms=1.9, mew=0, color=mc, zorder=3)

    ax.set_xlim(0, 12)
    ax.set_ylim(0, 3)
    ax.xaxis.set_major_locator(MultipleLocator(2))
    ax.xaxis.set_minor_locator(MultipleLocator(1))
    ax.yaxis.set_major_locator(MultipleLocator(1))
    ax.yaxis.set_minor_locator(MultipleLocator(0.2))
    ax.tick_params(which="both", direction="in", top=True, right=True, width=0.5, colors="#333333",
                   labelsize=5, pad=2)
    ax.tick_params(which="major", length=3.5)
    ax.tick_params(which="minor", length=1.8)
    ax.tick_params(axis="y", labelrotation=90)
    for lab in ax.get_yticklabels():
        lab.set_va("center")
    for s in ax.spines.values():
        s.set_linewidth(0.6)
        s.set_color("#333333")

    cx = (x0 + x1) / 2 / W
    fig.text(cx, 1 - (y0 - 13) / H, title, ha="center", va="center", fontsize=5, color="#222222")
    fig.text(cx, 1 - (y1 + 17) / H, "Time (UTC)", ha="center", va="center", fontsize=5, color="#222222")
    fig.text((x0 - 14) / W, 1 - (y0 + y1) / 2 / H, "Seeing (arcsec)", rotation=90,
             ha="center", va="center", fontsize=5, color="#222222")

fig.savefig("out.png", dpi=100)
